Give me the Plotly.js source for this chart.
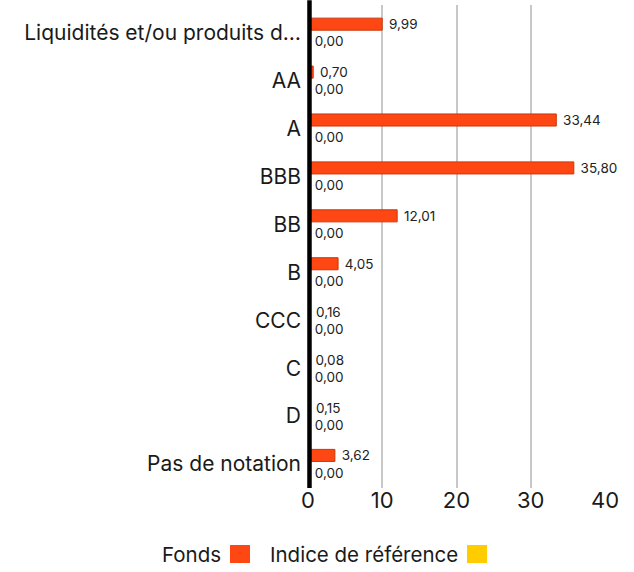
<!DOCTYPE html>
<html>
<head>
<meta charset="utf-8">
<script src="https://cdn.plot.ly/plotly-3.0.1.min.js"></script>
<style>html,body{margin:0;padding:0;background:#fff;}#chart{width:634px;height:572px;}</style>
</head>
<body>
<div id="chart"></div>
<script>
const categories = ["Liquidités et/ou produits d…", "AA", "A", "BBB", "BB", "B", "CCC", "C", "D", "Pas de notation"];
const fondsValues = [9.99, 0.70, 33.44, 35.80, 12.01, 4.05, 0.16, 0.08, 0.15, 3.62];
const indiceValues = [0, 0, 0, 0, 0, 0, 0, 0, 0, 0];
const seriesNames = ["Fonds", "Indice de référence"];
const xTicks = [0, 10, 20, 30, 40];

const FONT = "Inter, Roboto, 'Open Sans', sans-serif";
const fondsColor = "#FF4713";
const indiceColor = "#FFCC00";

const traces = [
  {
    type: "bar", orientation: "h", name: seriesNames[0],
    y: categories, x: fondsValues,
    marker: {color: fondsColor, line: {color: "#C9380C", width: 1}},
    texttemplate: " %{x:.2f}", textposition: "outside", cliponaxis: false, constraintext: "none",
    textfont: {family: FONT, size: 13.5, color: "#222"},
    showlegend: false, hoverinfo: "x+y"
  },
  {
    type: "bar", orientation: "h", name: seriesNames[1],
    y: categories, x: indiceValues,
    marker: {color: indiceColor, line: {color: "#C9A000", width: 1}},
    texttemplate: " %{x:.2f}", textposition: "outside", cliponaxis: false, constraintext: "none",
    textfont: {family: FONT, size: 13.5, color: "#222"},
    showlegend: false, hoverinfo: "x+y"
  }
];

const legendY = -(554 - 488) / 483;
const layout = {
  width: 634, height: 572,
  margin: {l: 308, r: 29, t: 5, b: 84},
  paper_bgcolor: "#fff", plot_bgcolor: "#fff",
  separators: ", ",
  barmode: "group", bargap: 0.28, bargroupgap: 0.3,
  font: {family: FONT, color: "#1a1a1a"},
  xaxis: {
    range: [0, 40], tickvals: xTicks, ticktext: xTicks.map(String),
    showgrid: true, gridcolor: "#c8c8c8", gridwidth: 2,
    zeroline: false, showline: false, ticks: "",
    tickfont: {family: FONT, size: 22, color: "#1a1a1a"}, ticklabelstandoff: -3
  },
  yaxis: {
    type: "category", categoryorder: "array", categoryarray: categories,
    range: [9.5, -0.58], showgrid: false, zeroline: false,
    showline: false, ticks: "",
    tickfont: {family: FONT, size: 21, color: "#1a1a1a"}, ticklabelstandoff: 6
  },
  annotations: [
    {xref: "paper", yref: "paper", x: (223 - 308) / 297, y: legendY, xanchor: "right", yanchor: "middle",
     text: seriesNames[0], showarrow: false, font: {family: FONT, size: 20.5, color: "#1a1a1a"}},
    {xref: "paper", yref: "paper", x: (460 - 308) / 297, y: legendY, xanchor: "right", yanchor: "middle",
     text: seriesNames[1], showarrow: false, font: {family: FONT, size: 20.5, color: "#1a1a1a"}}
  ],
  shapes: [
    {type: "line", xref: "paper", yref: "paper", x0: 0.005, x1: 0.005, y0: 0, y1: 1.01, layer: "above",
     line: {color: "#000", width: 4.5}},
    {type: "rect", xref: "paper", yref: "paper", x0: (230 - 308) / 297, x1: (250 - 308) / 297,
     y0: -(563 - 488) / 483, y1: -(545 - 488) / 483, fillcolor: fondsColor, line: {width: 0}},
    {type: "rect", xref: "paper", yref: "paper", x0: (467 - 308) / 297, x1: (487 - 308) / 297,
     y0: -(563 - 488) / 483, y1: -(545 - 488) / 483, fillcolor: indiceColor, line: {width: 0}}
  ]
};

Plotly.newPlot("chart", traces, layout, {displayModeBar: false, staticPlot: true});
</script>
</body>
</html>
